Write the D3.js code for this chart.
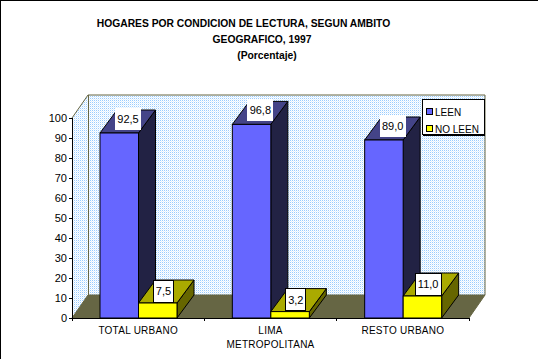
<!DOCTYPE html>
<html>
<head>
<meta charset="utf-8">
<script src="https://cdn.jsdelivr.net/npm/d3@7"></script>
<style>
  html, body { margin: 0; padding: 0; background: #fff; overflow: hidden; }
  svg { display: block; }
  text { font-family: "Liberation Sans", Arial, sans-serif; fill: #000; }
</style>
</head>
<body>
<div id="chart"></div>
<script>
const categories = ["TOTAL URBANO", "LIMA METROPOLITANA", "RESTO URBANO"];
const seriesNames = ["LEEN", "NO LEEN"];
const leen = [92.5, 96.8, 89.0];
const noLeen = [7.5, 3.2, 11.0];
const yTicks = [0, 10, 20, 30, 40, 50, 60, 70, 80, 90, 100];
const titleLines = ["HOGARES POR CONDICION DE LECTURA, SEGUN AMBITO", "GEOGRAFICO, 1997", "(Porcentaje)"];
const titleCenters = [243.5, 262, 267];

const width = 538, height = 359;
const plot = {left: 72, right: 469, top: 118, bottom: 318};
const depthX = 16, depthY = 23;   // offset of the back wall
const barDepthX = 17, barDepthY = 23;

const colors = {
    LEEN: {front: "#6666ff", top: "#444488", side: "#222244"},
    "NO LEEN": {front: "#ffff00", top: "#aaaa00", side: "#666600"}
};

const svg = d3.select("#chart").append("svg")
    .attr("width", width)
    .attr("height", height);

// frame line along the top and left of the image
svg.append("path")
    .attr("d", `M0.5,${height}V0.5H${width}`)
    .attr("fill", "none")
    .attr("stroke", "#000")
    .attr("shape-rendering", "crispEdges");

// dithered wall fill
const pattern = svg.append("defs").append("pattern")
    .attr("id", "dither")
    .attr("width", 2).attr("height", 2)
    .attr("patternUnits", "userSpaceOnUse");
pattern.append("rect").attr("width", 2).attr("height", 2).attr("fill", "#fff");
pattern.append("rect").attr("width", 1).attr("height", 1).attr("fill", "#99ccff");
pattern.append("rect").attr("x", 1).attr("y", 1).attr("width", 1).attr("height", 1).attr("fill", "#e0f0ff");

// scales
const x = d3.scaleBand().domain(categories).range([plot.left, plot.right]);
const inner = d3.scaleBand().domain(seriesNames).range([28, 105]);
const y = d3.scaleLinear().domain([0, 100]).range([plot.bottom, plot.top]);

const wallColor = "#666644";
const line = d3.line();

// walls and floor
const backLeft = plot.left + depthX, backRight = plot.right + depthX;
const backTop = y(100) - depthY, backBottom = y(0) - depthY;

svg.append("path")
    .attr("d", line([[plot.left, y(0)], [plot.left, y(100)], [backLeft, backTop], [backLeft, backBottom]]) + "Z")
    .attr("fill", "url(#dither)");
svg.append("rect")
    .attr("x", backLeft).attr("y", backTop)
    .attr("width", backRight - backLeft).attr("height", backBottom - backTop)
    .attr("fill", "url(#dither)");
svg.append("path")
    .attr("d", line([[plot.left, y(100)], [backLeft, backTop], [backRight, backTop], [backRight, backBottom]]))
    .attr("fill", "none").attr("stroke", wallColor);
svg.append("path")
    .attr("d", line([[backLeft, backTop], [backLeft, backBottom]]))
    .attr("fill", "none").attr("stroke", wallColor)
    .attr("shape-rendering", "crispEdges");
svg.append("path")
    .attr("d", line([[plot.left, y(0)], [backLeft, backBottom], [backRight, backBottom], [plot.right, y(0)]]) + "Z")
    .attr("fill", wallColor).attr("stroke", wallColor);

// axes
const yAxis = svg.append("g")
    .attr("transform", `translate(${plot.left},0)`)
    .call(d3.axisLeft(y).tickValues(yTicks).tickSize(3).tickPadding(2));
yAxis.selectAll("text").style("font-size", "11px");
yAxis.selectAll("path, line").attr("stroke", "#000").attr("shape-rendering", "crispEdges");

const xAxis = svg.append("g")
    .attr("transform", `translate(0,${plot.bottom})`)
    .call(d3.axisBottom(x).tickSize(0).tickPadding(9));
xAxis.select("path").remove();
xAxis.append("line")
    .attr("x1", plot.left).attr("x2", plot.right + 1)
    .attr("stroke", "#000").attr("shape-rendering", "crispEdges");
xAxis.selectAll(".edge")
    .data(categories.map(c => x(c)).concat(plot.right))
    .join("line")
    .attr("class", "edge")
    .attr("x1", d => d).attr("x2", d => d)
    .attr("y1", 0).attr("y2", 3)
    .attr("stroke", "#000").attr("shape-rendering", "crispEdges");
xAxis.selectAll(".tick text")
    .style("font-size", "10px")
    .style("letter-spacing", "0.25px")
    .each(function(d) {
        const words = d.split(" ");
        if (d !== "LIMA METROPOLITANA") return;
        const t = d3.select(this).text(null);
        words.forEach((w, i) => t.append("tspan")
            .attr("x", 0).attr("dy", i ? 14 : "0.71em").text(w));
    });

// bars
const rows = categories.map((c, i) => [
    {cat: c, key: seriesNames[0], value: leen[i]},
    {cat: c, key: seriesNames[1], value: noLeen[i]}
]);

const bars = svg.append("g").selectAll("g")
    .data(rows.flat())
    .join("g")
    .attr("stroke", "#000")
    .attr("stroke-width", 1);

bars.each(function(d) {
    const g = d3.select(this);
    const x0 = x(d.cat) + inner(d.key), x1 = x0 + inner.bandwidth();
    const yTop = y(d.value), yBase = y(0);
    g.append("path")
        .attr("d", line([[x1, yBase], [x1, yTop], [x1 + barDepthX, yTop - barDepthY], [x1 + barDepthX, yBase - barDepthY]]) + "Z")
        .attr("fill", colors[d.key].side);
    g.append("path")
        .attr("d", line([[x0, yTop], [x0 + barDepthX, yTop - barDepthY], [x1 + barDepthX, yTop - barDepthY], [x1, yTop]]) + "Z")
        .attr("fill", colors[d.key].top);
    g.append("rect")
        .attr("x", x0).attr("y", yTop)
        .attr("width", x1 - x0).attr("height", yBase - yTop)
        .attr("fill", colors[d.key].front);
});

// value labels
const labels = svg.append("g").selectAll("g")
    .data(rows.flat())
    .join("g")
    .attr("transform", d => {
        const isLeen = d.key === seriesNames[0];
        const cx = x(d.cat) + inner(d.key) + (isLeen ? 28 : 25);
        const by = y(d.value) - (isLeen ? 3 : 1);
        return `translate(${cx},${by})`;
    });

labels.append("rect")
    .attr("x", d => d.value >= 10 ? -13 : -10)
    .attr("y", -22)
    .attr("width", d => d.value >= 10 ? 26 : 20)
    .attr("height", 22)
    .attr("fill", "#fff")
    .attr("stroke", d => d.key === seriesNames[1] ? "#000" : "none")
    .attr("shape-rendering", "crispEdges");
labels.append("text")
    .attr("y", -7)
    .attr("text-anchor", "middle")
    .style("font-size", "11px")
    .text(d => d3.format(".1f")(d.value).replace(".", ","));

// title
svg.append("g").selectAll("text")
    .data(titleLines)
    .join("text")
    .attr("x", (d, i) => titleCenters[i])
    .attr("y", (d, i) => 27 + i * 16)
    .attr("text-anchor", "middle")
    .style("font-size", "10.3px")
    .style("font-weight", "bold")
    .text(d => d);

// legend
const legend = svg.append("g").attr("transform", "translate(422,99)");
legend.append("rect")
    .attr("x", 0.5).attr("y", 0.5).attr("width", 62).attr("height", 35)
    .attr("fill", "#fff").attr("stroke", "#000").attr("shape-rendering", "crispEdges");
legend.append("path")
    .attr("d", "M62.5,1V36H1")
    .attr("fill", "none").attr("stroke", "#000").attr("stroke-width", 1.5)
    .attr("shape-rendering", "crispEdges");
const legendItems = legend.selectAll(".item")
    .data(seriesNames)
    .join("g")
    .attr("class", "item")
    .attr("transform", (d, i) => `translate(4,${9.5 + i * 17})`);
legendItems.append("rect")
    .attr("x", 0.5).attr("width", 6).attr("height", 6)
    .attr("fill", d => colors[d].front)
    .attr("stroke", "#000").attr("shape-rendering", "crispEdges");
legendItems.append("text")
    .attr("x", 9).attr("y", 7)
    .style("font-size", "10px")
    .text(d => d);
</script>
</body>
</html>
